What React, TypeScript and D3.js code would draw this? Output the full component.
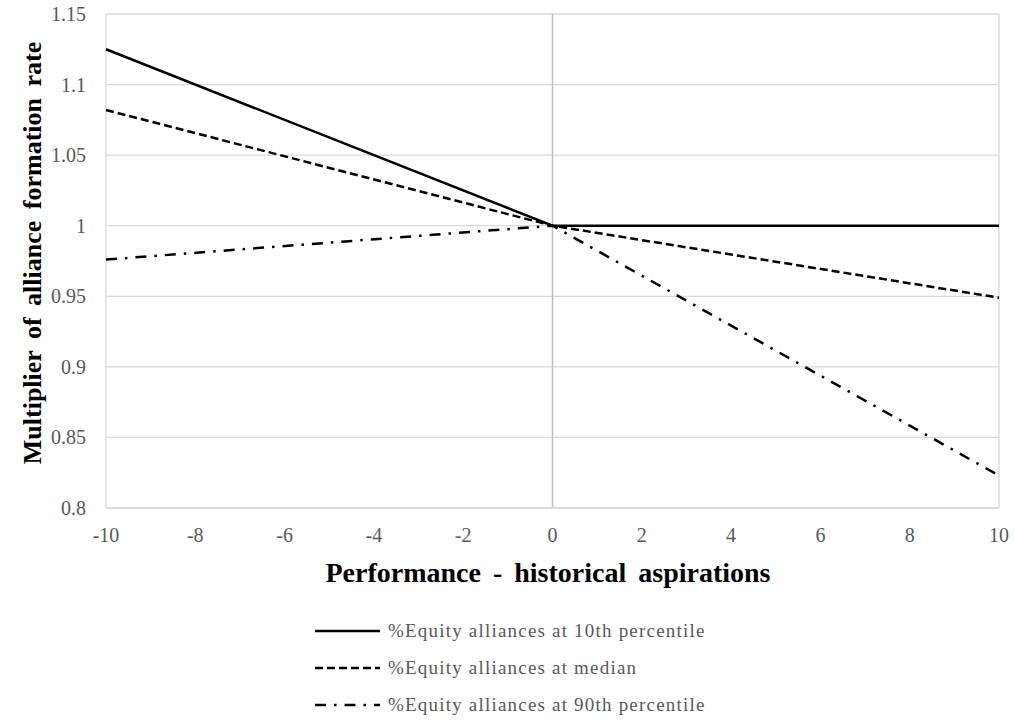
import React from "react";
import * as d3 from "d3";

const xValues = [-10, 0, 10];
const series = [
  { name: "%Equity alliances at 10th percentile", values: [1.125, 1.0, 1.0], dash: "none" },
  { name: "%Equity alliances at median", values: [1.082, 1.0, 0.949], dash: "8,4" },
  { name: "%Equity alliances at 90th percentile", values: [0.976, 1.0, 0.823], dash: "11,8,2.5,8" },
];
const xTicks = [-10, -8, -6, -4, -2, 0, 2, 4, 6, 8, 10];
const yTicks = [0.8, 0.85, 0.9, 0.95, 1, 1.05, 1.1, 1.15];
const yTickLabels = ["0.8", "0.85", "0.9", "0.95", "1", "1.05", "1.1", "1.15"];

const W = 1015, H = 725;
const left = 106, right = 999, top = 14, bottom = 508;
const FONT = "Liberation Serif";

export default function App() {
  const x = d3.scaleLinear().domain([-10, 10]).range([left, right]);
  const y = d3.scaleLinear().domain([0.8, 1.15]).range([bottom, top]);
  const line = d3.line<number>().x((_, i) => x(xValues[i])).y((v) => y(v));
  return (
    <svg width={W} height={H} style={{ position: "absolute", left: 0, top: 0, fontFamily: FONT, background: "#fff" }}>
      {yTicks.map((t) => (
        <line key={"g" + t} x1={left} x2={right} y1={y(t)} y2={y(t)} stroke="#d9d9d9" strokeWidth={1.3} />
      ))}
      <line x1={left} x2={left} y1={top} y2={bottom} stroke="#d9d9d9" strokeWidth={1.3} />
      <line x1={right} x2={right} y1={top} y2={bottom} stroke="#d9d9d9" strokeWidth={1.3} />
      <line x1={x(0)} x2={x(0)} y1={top} y2={bottom} stroke="#bfbfbf" strokeWidth={1.5} />
      <line x1={left} x2={right} y1={bottom} y2={bottom} stroke="#d9d9d9" strokeWidth={1.5} />
      {yTicks.map((t, i) => (
        <text key={"y" + t} x={86} y={y(t) + 7} textAnchor="end" style={{ fontFamily: FONT }} fontSize={20} fill="#595959">
          {yTickLabels[i]}
        </text>
      ))}
      {xTicks.map((t) => (
        <text key={"x" + t} x={x(t)} y={542} textAnchor="middle" style={{ fontFamily: FONT }} fontSize={20} fill="#595959">
          {String(t)}
        </text>
      ))}
      {series.map((s) => (
        <path key={s.name} d={line(s.values) || ""} fill="none" stroke="#000" strokeWidth={2.5}
          strokeDasharray={s.dash === "none" ? undefined : s.dash} />
      ))}
      <text x={548} y={582} textAnchor="middle" style={{ fontFamily: FONT, wordSpacing: "5px" }} fontSize={28} fontWeight="bold" fill="#000">
        Performance - historical aspirations
      </text>
      <text transform={`translate(41,253) rotate(-90)`} textAnchor="middle" style={{ fontFamily: FONT, wordSpacing: "5px" }}
        fontSize={26} fontWeight="bold" fill="#000">
        Multiplier of alliance formation rate
      </text>
      {series.map((s, i) => (
        <g key={"l" + s.name} transform={`translate(0,${631 + i * 37})`}>
          <line x1={315} x2={380} y1={0} y2={0} stroke="#000" strokeWidth={2.5}
            strokeDasharray={s.dash === "none" ? undefined : s.dash} />
          <text x={388} y={6} style={{ fontFamily: FONT, letterSpacing: "1.2px" }} fontSize={19} fill="#595959">
            {s.name}
          </text>
        </g>
      ))}
    </svg>
  );
}
